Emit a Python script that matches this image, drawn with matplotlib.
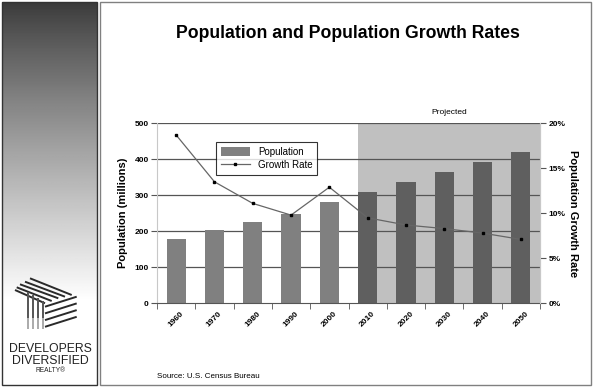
import numpy as np
import matplotlib
matplotlib.use("Agg")
import matplotlib.pyplot as plt
from matplotlib.patches import Rectangle, Patch
from matplotlib.lines import Line2D

plt.rcParams['font.family'] = ['Liberation Sans', 'DejaVu Sans']

# data
years = ['1960', '1970', '1980', '1990', '2000', '2010', '2020', '2030', '2040', '2050']
population = [180, 205, 227, 249, 282, 309, 336, 364, 392, 419]   # millions
growth_rate = [18.7, 13.5, 11.1, 9.8, 12.9, 9.5, 8.7, 8.3, 7.8, 7.1]  # percent
first_projected = '2010'

W, H = 593, 389
fig = plt.figure(figsize=(W / 100, H / 100), dpi=100)

# background layer in pixel coords
bg = fig.add_axes([0, 0, 1, 1])
bg.set_xlim(0, W)
bg.set_ylim(H, 0)
bg.axis('off')

# left gradient panel
grad = np.linspace(0, 1, 256)
grad = np.clip(grad / 0.78, 0, 1) ** 0.9
img = np.tile(grad[:, None], (1, 2))
bg.imshow(img, cmap='gray', vmin=-0.3, vmax=1.0, extent=(2, 97, 385, 2),
          aspect='auto', interpolation='bilinear', zorder=1)
bg.add_patch(Rectangle((2, 2), 95, 383, fill=False, ec='#333333', lw=1.0, zorder=3))

# right white panel
bg.add_patch(Rectangle((100, 2), 491, 383, fc='white', ec='#808080', lw=1.0, zorder=1))

# logo strokes (rough)
tl_start = [(30, 278.3), (25, 281.7), (20, 284.3), (16.7, 287.3), (15, 290)]
tl_end = [(71.7, 295), (65, 296.7), (58.3, 298.3), (51.7, 301), (45, 303.3)]
for (xa, ya), (xb, yb) in zip(tl_start, tl_end):
    bg.plot([xa, xb], [ya, yb], color='#2a2a2a', lw=1.4, solid_capstyle='butt', zorder=4)
for k, xv in enumerate([28.3, 33.3, 38.3, 43.3]):
    bg.plot([xv, xv], [292 + 3 * k, 318], color='#555555', lw=1.4, solid_capstyle='butt', zorder=4)
    bg.plot([xv, xv], [318, 329], color='#aaaaaa', lw=1.4, solid_capstyle='butt', zorder=4)
for k in range(4):
    bg.plot([45, 76.7], [306.7 + 6.7 * k, 296.7 + 6.7 * k], color='#2a2a2a', lw=1.4,
            solid_capstyle='butt', zorder=4)
bg.text(50, 349, 'DEVELOPERS', ha='center', va='center', fontsize=8.8, color='#222222', zorder=4)
bg.text(50, 361, 'DIVERSIFIED', ha='center', va='center', fontsize=8.8, color='#222222', zorder=4)
bg.text(50, 370, 'REALTY\u00ae', ha='center', va='center', fontsize=4.8, color='#222222', zorder=4)

# title and source
bg.text(348, 33, 'Population and Population Growth Rates', ha='center', va='center',
        fontsize=12.7, fontweight='bold', zorder=4)
bg.text(157, 376, 'Source: U.S. Census Bureau', ha='left', va='center', fontsize=5.8, zorder=4)

# main chart
ax = fig.add_axes([157 / W, 1 - 303.3 / H, 383 / W, 180 / H])
ax.set_zorder(2)
ax.patch.set_alpha(0)
x = np.arange(len(years))
p0 = years.index(first_projected)

ax.axvspan(p0 - 0.25, len(years) - 0.5, color='#c0c0c0', lw=0, zorder=0)
bar_colors = ['#808080' if i < p0 else '#5f5f5f' for i in x]
ax.bar(x, population, width=0.5, color=bar_colors, zorder=2)
ax.set_xlim(-0.5, len(years) - 0.5)
ax.set_ylim(0, 500)
ax.set_yticks(np.arange(0, 501, 100))
for yv in np.arange(100, 501, 100):
    ax.axhline(yv, color='#555555', lw=0.9, zorder=1)
ax.text((p0 - 0.25 + len(years) - 0.5) / 2, 530, 'Projected', ha='center', va='center',
        fontsize=6)

ax.set_xticks(x)
ax.set_xticklabels(years, rotation=45, ha='center', fontsize=6, fontweight='bold')
ax.set_xticks(np.arange(-0.5, len(years), 1), minor=True)
ax.tick_params(axis='x', which='major', length=0, pad=5)
ax.tick_params(axis='x', which='minor', length=4, direction='out', color='#555555')
ax.tick_params(axis='y', length=4, color='#555555', labelsize=6, pad=2)
for lab in ax.get_yticklabels():
    lab.set_fontweight('bold')
ax.spines['top'].set_visible(False)
ax.spines['left'].set_color('#c8c8c8')
ax.spines['right'].set_color('#c8c8c8')
ax.spines['bottom'].set_color('#555555')
ax.set_ylabel('Population (millions)', fontsize=8, fontweight='bold', va='center')
ax.yaxis.set_label_coords(-0.089, 0.5)

ax2 = ax.twinx()
ax2.plot(x, growth_rate, color='#666666', lw=0.9, marker='s', markersize=2,
         markerfacecolor='black', markeredgecolor='black', zorder=3)
ax2.set_ylim(0, 20)
ax2.set_yticks(np.arange(0, 21, 5))
ax2.set_yticklabels([f'{v}%' for v in range(0, 21, 5)], fontsize=6, fontweight='bold')
ax2.tick_params(axis='y', length=4, color='#555555', pad=2)
for s in ['top', 'left', 'bottom']:
    ax2.spines[s].set_visible(False)
ax2.spines['right'].set_color('#c8c8c8')
ax2.set_ylabel('Population Growth Rate', fontsize=8, fontweight='bold', rotation=-90,
               va='center')
ax2.yaxis.set_label_coords(1.086, 0.5)

handles = [Patch(facecolor='#808080', edgecolor='none'),
           Line2D([0], [0], color='#666666', lw=0.9, marker='s', markersize=2,
                  markerfacecolor='black', markeredgecolor='black')]
leg = ax2.legend(handles, ['Population', 'Growth Rate'], loc='upper left',
                 bbox_to_anchor=(0.154, 0.896), fontsize=7, frameon=True, fancybox=False,
                 borderpad=0.5, handlelength=3.0, handleheight=1.1, labelspacing=0.35,
                 borderaxespad=0)
leg.get_frame().set_edgecolor('black')
leg.get_frame().set_linewidth(0.8)

fig.savefig('out.png', dpi=100)
